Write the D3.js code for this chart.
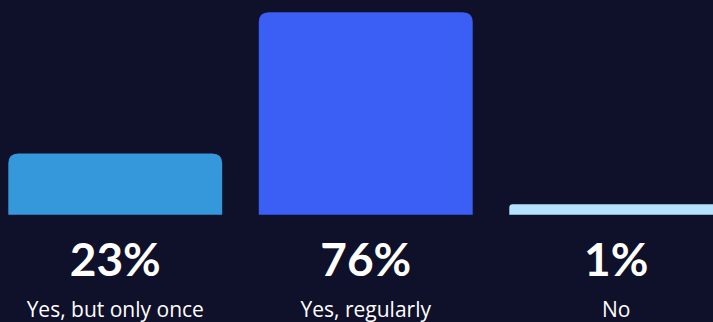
<!DOCTYPE html>
<html><head><meta charset="utf-8">
<script src="https://cdn.jsdelivr.net/npm/d3@7"></script>
<style>html,body{margin:0;padding:0;background:#0f1029;overflow:hidden}</style>
</head><body>
<svg id="c" width="713" height="322"></svg>
<script>
const categories = ["Yes, but only once", "Yes, regularly", "No"];
const values = [23, 76, 1];
const valueLabels = ["23%", "76%", "1%"];
const colors = ["#3598db", "#3b5ef5", "#b5e2fe"];

const W = 713, H = 322;
const svg = d3.select("#c");
svg.append("rect").attr("width", W).attr("height", H).attr("fill", "#0f1029");

const baseline = 214.7;
const x = d3.scaleBand().domain(categories).range([-10, 741.5]).paddingInner(0.146).paddingOuter(0.073);
const y = d3.scaleLinear().domain([0, 76]).range([baseline, 12.3]);
const minH = 10.4;

function topRounded(x0, y0, w, h, r) {
  r = Math.min(r, h / 3, w / 2);
  return `M${x0},${y0 + h}V${y0 + r}Q${x0},${y0} ${x0 + r},${y0}H${x0 + w - r}Q${x0 + w},${y0} ${x0 + w},${y0 + r}V${y0 + h}Z`;
}

svg.selectAll("path.bar").data(categories).join("path")
  .attr("class", "bar")
  .attr("fill", (d, i) => colors[i])
  .attr("d", (d, i) => {
    const h = Math.max(minH, baseline - y(values[i]));
    return topRounded(x(d), baseline - h, x.bandwidth(), h, 10);
  });

svg.selectAll("text.val").data(categories).join("text")
  .attr("class", "val")
  .attr("x", d => x(d) + x.bandwidth() / 2)
  .attr("y", 276)
  .attr("text-anchor", "middle")
  .attr("fill", "#ffffff")
  .attr("font-family", "Lato, sans-serif")
  .attr("font-weight", 700)
  .attr("font-size", 46)
  .text((d, i) => valueLabels[i]);

svg.selectAll("text.cat").data(categories).join("text")
  .attr("class", "cat")
  .attr("x", d => x(d) + x.bandwidth() / 2)
  .attr("y", 317)
  .attr("text-anchor", "middle")
  .attr("fill", "#ffffff")
  .attr("font-family", "'Open Sans', sans-serif")
  .attr("font-weight", 500)
  .attr("font-size", 21)
  .text(d => d);
</script>
</body></html>
